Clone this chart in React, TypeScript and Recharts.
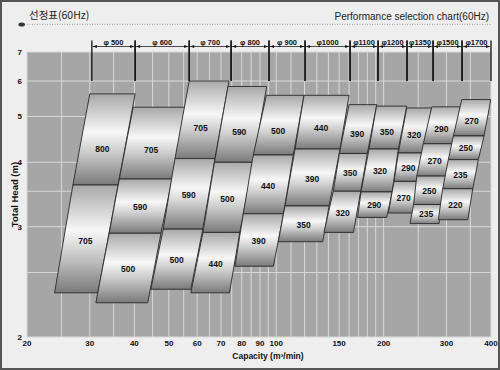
import { ComposedChart, Area, Scatter, XAxis, YAxis, CartesianGrid, ReferenceArea, Label } from "recharts";

// pump diameter groups across the top, with their capacity limits (m³/min)
const diameters = ["φ 500", "φ 600", "φ 700", "φ 800", "φ 900", "φ1000", "φ1100", "φ1200", "φ1350", "φ1500", "φ1700"];
const diameterBounds = [30.4, 40.2, 57, 74.7, 95.4, 120.4, 161, 192.9, 232.6, 275.2, 331.8, 400];

// one entry per shaded box: speed (rpm), head range (m), capacity at the four corners
const speeds = [800, 705, 705, 590, 500, 705, 590, 500, 590, 500, 440, 500, 440, 390, 440, 390, 350, 390, 350, 320, 350, 320, 290, 320, 290, 270, 290, 270, 250, 235, 270, 250, 235, 220];
const headTop = [5.61, 3.6, 5.24, 3.7, 2.92, 6.0, 4.07, 2.97, 5.83, 4.0, 2.93, 5.57, 4.14, 3.17, 5.57, 4.26, 3.28, 5.31, 4.17, 3.5, 5.27, 4.26, 3.49, 5.22, 4.18, 3.66, 5.25, 4.37, 3.75, 3.3, 5.45, 4.54, 4.05, 3.54];
const headBottom = [3.6, 2.32, 3.7, 2.92, 2.24, 4.07, 2.97, 2.35, 4.0, 2.93, 2.32, 4.14, 3.17, 2.56, 4.26, 3.28, 2.82, 4.17, 3.5, 2.93, 4.26, 3.49, 3.12, 4.18, 3.66, 3.18, 4.37, 3.75, 3.3, 3.04, 4.54, 4.05, 3.54, 3.09];
const qTopLeft = [30.0, 26.9, 39.7, 36.3, 34.0, 57.0, 52.0, 48.2, 73.2, 67.1, 62.3, 93.8, 86.2, 80.8, 119.6, 112.9, 105.8, 160.0, 150.3, 144.5, 191.0, 182.0, 172.8, 232.2, 219.9, 213.9, 272.9, 258.4, 247.7, 242.6, 331.2, 313.7, 303.7, 292.9];
const qTopRight = [40.2, 36.0, 55.5, 51.0, 47.5, 73.7, 67.3, 62.2, 94.0, 86.2, 79.0, 119.6, 111.6, 104.8, 160.0, 150.9, 140.6, 191.3, 180.0, 172.5, 232.2, 219.9, 211.3, 272.9, 258.4, 250.2, 328.6, 312.5, 299.3, 291.0, 399.4, 382.5, 368.6, 355.6];
const qBottomLeft = [26.9, 23.9, 36.3, 34.0, 31.2, 52.0, 48.2, 44.5, 67.1, 62.3, 57.6, 86.2, 80.8, 76.6, 112.9, 105.8, 101.3, 150.3, 144.5, 136.1, 182.0, 172.8, 169.0, 219.9, 213.9, 206.2, 258.4, 247.7, 242.6, 237.2, 313.7, 303.7, 292.9, 284.7];
const qBottomRight = [36.0, 31.6, 51.0, 47.5, 43.6, 67.3, 62.2, 57.6, 86.2, 79.0, 73.9, 111.6, 104.8, 98.1, 150.9, 140.6, 135.0, 180.0, 172.5, 164.5, 219.9, 211.3, 204.0, 258.4, 250.2, 243.4, 312.5, 299.3, 291.0, 286.0, 382.5, 368.6, 355.6, 344.3];

const xTicks = [20, 30, 40, 50, 60, 70, 80, 90, 100, 150, 200, 300, 400];
const xGrid = [20, 25, 30, 35, 40, 45, 50, 55, 60, 65, 70, 75, 80, 85, 90, 95, 100, 110, 120, 130, 140, 150, 160, 170, 180, 190, 200, 250, 300, 350, 400];
const yTicks = [2, 3, 4, 5, 6, 7];
const yGrid = [2, 2.5, 3, 3.5, 4, 4.5, 5, 5.5, 6, 6.5, 7];

// the head axis of this chart is logarithmic in (H - 1)
const hy = (h: number) => h - 1;

const boxData = speeds.map((_, i) => {
  const t = hy(headTop[i]);
  const b = hy(headBottom[i]);
  return [
    { q: qBottomLeft[i], r: [b, b] },
    { q: qTopLeft[i], r: [b, t] },
    { q: qBottomRight[i], r: [b, t] },
    { q: qTopRight[i], r: [t, t] },
  ];
});

const logLerp = (a: number, b: number, f: number) => Math.exp(Math.log(a) + (Math.log(b) - Math.log(a)) * f);

const labelData = speeds.map((s, i) => {
  const f = headTop[i] > 5 ? 0.6 : 0.52;
  const ql = logLerp(qTopLeft[i], qBottomLeft[i], f);
  const qr = logLerp(qTopRight[i], qBottomRight[i], f);
  return { q: Math.sqrt(ql * qr), y: logLerp(hy(headTop[i]), hy(headBottom[i]), f), label: String(s) };
});

const sans = "'Liberation Sans', Arial, sans-serif";
const narrow = "'Liberation Sans Narrow', 'Arial Narrow', 'Liberation Sans', Arial, sans-serif";

function Bracket(p: any) {
  const { x, y, width, height, label } = p;
  const top = y - 11.5;
  const ly = y - 5.5;
  return (
    <g>
      <line x1={x} y1={top} x2={x} y2={y + height} stroke="#111" strokeWidth={1.3} />
      <line x1={x + width} y1={top} x2={x + width} y2={y + height} stroke="#111" strokeWidth={1.3} />
      <line x1={x + 1} y1={ly} x2={x + width - 1} y2={ly} stroke="#222" strokeWidth={0.8} />
      <path d={`M${x + 1},${ly} l4,-1.6 v3.2 z`} fill="#111" />
      <path d={`M${x + width - 1},${ly} l-4,-1.6 v3.2 z`} fill="#111" />
      <text x={x + width / 2} y={ly - 2} textAnchor="middle" fontSize={7.5} fontWeight="bold" fontFamily={narrow} fill="#111">
        {label}
      </text>
    </g>
  );
}

export default function App() {
  return (
    <div style={{ position: "fixed", left: 0, top: 0, width: 500, height: 370, background: "#eeeeee", overflow: "hidden" }}>
      <svg width={500} height={40} style={{ position: "absolute", left: 0, top: 0 }}>
        <text x={29} y={19} fontSize={10.5} fontFamily="'Noto Sans CJK KR', sans-serif" fill="#222">
          선정표(60Hz)
        </text>
        <text x={489} y={19.5} textAnchor="end" fontSize={10} fontFamily={sans} fill="#222">
          Performance selection chart(60Hz)
        </text>
        <ellipse cx={21.7} cy={24.6} rx={3.3} ry={2} fill="#333" />
        <line x1={27} y1={24.3} x2={492} y2={24.3} stroke="#999" strokeWidth={1} strokeDasharray="1 1.5" />
      </svg>
      <div style={{ position: "absolute", left: 0, top: 0 }}>
        <ComposedChart width={500} height={370} margin={{ top: 52, right: 9, bottom: 0, left: 7 }}>
          <defs>
            <linearGradient id="metal" x1="0" y1="0" x2="0" y2="1">
              <stop offset="0" stopColor="#a8a8a8" />
              <stop offset="0.42" stopColor="#f7f7f7" />
              <stop offset="0.62" stopColor="#d0d0d0" />
              <stop offset="1" stopColor="#7a7a7a" />
            </linearGradient>
          </defs>
          <CartesianGrid
            fill="#a6a6a6"
            fillOpacity={1}
            stroke="#d8d8d8"
            strokeWidth={1}
            verticalValues={xGrid}
            horizontalValues={yGrid.map(hy)}
          />
          <XAxis
            dataKey="q"
            type="number"
            scale="log"
            domain={[20, 400]}
            allowDataOverflow
            ticks={xTicks}
            interval={0}
            height={33}
            tickLine={false}
            axisLine={false}
            tickSize={0}
            tickMargin={3}
            tick={{ fontSize: 8, fontWeight: "bold", fill: "#111", fontFamily: sans }}
          >
            <Label
              content={(p: any) => {
                const vb = p.viewBox;
                return (
                  <text x={vb.x + vb.width / 2 + 9} y={vb.y + 21.5} textAnchor="middle" fontSize={8.5} fontWeight="bold" fill="#111" fontFamily={sans}>
                    Capacity (m³/min)
                  </text>
                );
              }}
            />
          </XAxis>
          <YAxis
            type="number"
            scale="log"
            domain={[1, 6]}
            allowDataOverflow
            ticks={yTicks.map(hy)}
            tickFormatter={(v: number) => String(Math.round(v + 1))}
            width={20}
            tickLine={false}
            axisLine={false}
            tickSize={0}
            tickMargin={5}
            tick={{ fontSize: 8, fontWeight: "bold", fill: "#111", fontFamily: sans }}
          >
            <Label
              content={(p: any) => {
                const vb = p.viewBox;
                const cx = vb.x + 8.5;
                const cy = vb.y + vb.height / 2;
                return (
                  <text x={cx} y={cy} transform={`rotate(-90 ${cx} ${cy})`} textAnchor="middle" dominantBaseline="middle" fontSize={9.5} fontWeight="bold" fill="#111" fontFamily={sans}>
                    Total Head (m)
                  </text>
                );
              }}
            />
          </YAxis>
          {diameters.map((d, i) => (
            <ReferenceArea
              key={d}
              x1={diameterBounds[i]}
              x2={diameterBounds[i + 1]}
              y1={hy(6)}
              y2={hy(7)}
              ifOverflow="visible"
              shape={(p: any) => <Bracket {...p} label={d} />}
            />
          ))}
          {boxData.map((data, i) => (
            <Area
              key={i}
              data={data}
              dataKey="r"
              type="linear"
              stroke="#2a2a2a"
              strokeWidth={0.9}
              fill="url(#metal)"
              fillOpacity={1}
              dot={false}
              activeDot={false}
              isAnimationActive={false}
            />
          ))}
          <Scatter
            data={labelData}
            dataKey="y"
            isAnimationActive={false}
            shape={(p: any) => (
              <text x={p.cx} y={p.cy} dy={3} textAnchor="middle" fontSize={8.5} fontWeight="bold" fill="#111" fontFamily={narrow}>
                {p.payload.label}
              </text>
            )}
          />
        </ComposedChart>
      </div>
      <div style={{ position: "absolute", left: 0, top: 0, width: 500, height: 370, boxSizing: "border-box", border: "2px solid #555", pointerEvents: "none" }} />
    </div>
  );
}
